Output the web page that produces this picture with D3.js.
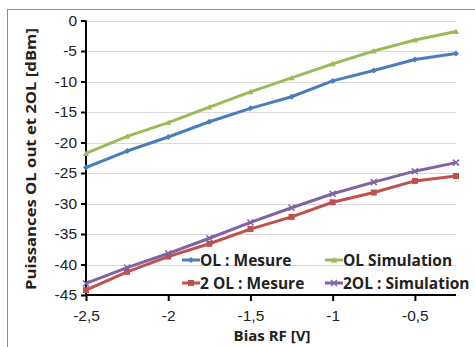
<!DOCTYPE html>
<html><head><meta charset="utf-8">
<script src="https://cdn.jsdelivr.net/npm/d3@7"></script>
<style>body{margin:0;background:#fff;}svg{display:block;font-family:"Open Sans",Lato,sans-serif;}</style>
</head><body><svg id="c" width="475" height="347"></svg>
<script>
const xValues = [-2.5,-2.25,-2,-1.75,-1.5,-1.25,-1,-0.75,-0.5,-0.25];
const olMesure = [-24.1,-21.4,-19.1,-16.6,-14.4,-12.5,-9.9,-8.2,-6.4,-5.4];
const olSimulation = [-21.8,-19.0,-16.75,-14.2,-11.7,-9.4,-7.1,-5.0,-3.2,-1.8];
const ol2Mesure = [-44.2,-41.2,-38.7,-36.6,-34.2,-32.2,-29.8,-28.2,-26.3,-25.5];
const ol2Simulation = [-43.1,-40.5,-38.2,-35.7,-33.1,-30.7,-28.4,-26.5,-24.7,-23.3];
const xTicks = [-2.5,-2,-1.5,-1,-0.5];
const yTicks = [0,-5,-10,-15,-20,-25,-30,-35,-40,-45];
const seriesNames = ["OL : Mesure","OL Simulation","2 OL : Mesure","2OL : Simulation"];

const series = [
  {name:seriesNames[0], values:olMesure, color:"#4A7EBB", marker:"diamond"},
  {name:seriesNames[1], values:olSimulation, color:"#9BBB59", marker:"triangle"},
  {name:seriesNames[2], values:ol2Mesure, color:"#C0504D", marker:"square"},
  {name:seriesNames[3], values:ol2Simulation, color:"#8064A2", marker:"x"}
];

const svg = d3.select("#c");
svg.append("rect").attr("x",7.5).attr("y",9.5).attr("width",480).attr("height",350)
  .attr("fill","none").attr("stroke","#8c8c8c").attr("stroke-width",1);

const x = d3.scaleLinear().domain([-2.5,-0.25]).range([86,456]);
const y = d3.scaleLinear().domain([-45,0]).range([295,20.5]);

svg.append("g").selectAll("line").data(yTicks.filter(d=>d!==-45)).join("line")
  .attr("x1",86).attr("x2",456).attr("y1",d=>Math.round(y(d))+0.5).attr("y2",d=>Math.round(y(d))+0.5)
  .attr("stroke","#d9d9d9").attr("stroke-width",1.2);

const fmt = d => String(d).replace(".",",");
const ya = svg.append("g").attr("transform","translate(86,0)")
  .call(d3.axisLeft(y).tickValues(yTicks).tickSize(5).tickPadding(4).tickFormat(fmt));
const xa = svg.append("g").attr("transform","translate(0,295)")
  .call(d3.axisBottom(x).tickValues(xTicks).tickSize(6).tickPadding(9).tickFormat(fmt));
[ya,xa].forEach(a=>{
  a.select(".domain").attr("stroke","#000").attr("stroke-width",2);
  a.selectAll(".tick line").attr("stroke","#000").attr("stroke-width",2);
  a.selectAll("text").attr("fill","#222").style("font-size","15.5px");
});
ya.select(".domain").attr("d","M0,20.5V295");
xa.select(".domain").attr("d","M86,0H456");

const line = d3.line().x((d,i)=>x(xValues[i])).y(d=>y(d));
function drawMarker(g, type, cx, cy, color){
  const s=3;
  if(type==="diamond") g.append("path").attr("d",`M${cx},${cy-s}L${cx+s},${cy}L${cx},${cy+s}L${cx-s},${cy}Z`).attr("fill",color);
  else if(type==="triangle") g.append("path").attr("d",`M${cx},${cy-s}L${cx+s},${cy+s*0.8}L${cx-s},${cy+s*0.8}Z`).attr("fill",color);
  else if(type==="square") g.append("rect").attr("x",cx-s).attr("y",cy-s).attr("width",2*s).attr("height",2*s).attr("fill",color);
  else g.append("path").attr("d",`M${cx-s},${cy-s}L${cx+s},${cy+s}M${cx-s},${cy+s}L${cx+s},${cy-s}`).attr("stroke",color).attr("stroke-width",1.5);
}
series.forEach(s=>{
  svg.append("path").datum(s.values).attr("d",line).attr("fill","none")
    .attr("stroke",s.color).attr("stroke-width",3).attr("stroke-linejoin","round");
  const g = svg.append("g");
  s.values.forEach((v,i)=>drawMarker(g,s.marker,x(xValues[i]),y(v),s.color));
});

const legPos = [[182,260],[325,260],[182,283],[325,283]];
series.forEach((s,i)=>{
  const [lx,ly]=legPos[i];
  svg.append("line").attr("x1",lx).attr("x2",lx+18).attr("y1",ly).attr("y2",ly)
    .attr("stroke",s.color).attr("stroke-width",3);
  drawMarker(svg,s.marker,lx+9,ly,s.color);
  svg.append("text").attr("x",lx+18).attr("y",ly+5.5).text(s.name)
    .attr("fill","#222").style("font-size","15.5px").style("font-weight","bold");
});

svg.append("text").attr("x",272).attr("y",341).attr("text-anchor","middle")
  .text("Bias RF [V]").attr("fill","#222").style("font-size","15px").style("font-weight","bold");
svg.append("text").attr("transform","translate(36,159) rotate(-90)").attr("text-anchor","middle")
  .text("Puissances OL out et 2OL [dBm]").attr("fill","#222").style("font-size","15px").style("font-weight","bold")
  .attr("textLength",262).attr("lengthAdjust","spacingAndGlyphs");
</script></body></html>
